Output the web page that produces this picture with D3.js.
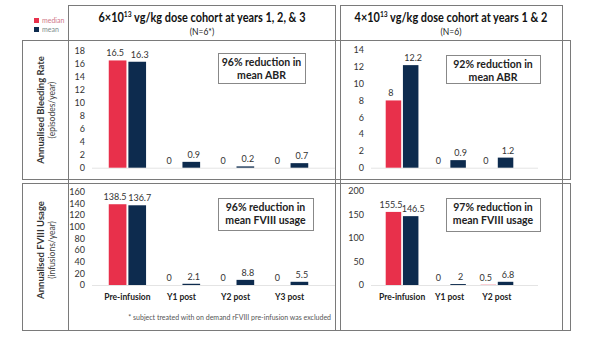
<!DOCTYPE html>
<html>
<head>
<meta charset="utf-8">
<script src="https://cdn.jsdelivr.net/npm/d3@7"></script>
<style>
  body { margin: 0; background: #fff; }
  svg { display: block; font-family: Lato, "Open Sans", sans-serif; }
</style>
</head>
<body>
<svg id="chart" width="600" height="338"></svg>
<script>
// categories
const catsHigh = ["Pre-infusion", "Y1 post", "Y2 post", "Y3 post"]
const catsLow = ["Pre-infusion", "Y1 post", "Y2 post"]
const series = ["median", "mean"]

// 6e13 cohort
const abrHighMedian = [16.5, 0, 0, 0]
const abrHighMean = [16.3, 0.9, 0.2, 0.7]
const fviiiHighMedian = [138.5, 0, 0, 0]
const fviiiHighMean = [136.7, 2.1, 8.8, 5.5]
// 4e13 cohort
const abrLowMedian = [8, 0, 0]
const abrLowMean = [12.2, 0.9, 1.2]
const fviiiLowMedian = [155.5, 0, 0.5]
const fviiiLowMean = [146.5, 2, 6.8]

// axis ticks
const abrHighTicks = [0, 2, 4, 6, 8, 10, 12, 14, 16, 18]
const abrLowTicks = [0, 2, 4, 6, 8, 10, 12, 14]
const fviiiHighTicks = [0, 20, 40, 60, 80, 100, 120, 140, 160]
const fviiiLowTicks = [0, 50, 100, 150, 200]

const RED = "#e8304b", NAVY = "#0d2b4e", LINE = "#7a7a7a"

let svg = d3.select("#chart")
let color = d3.scaleOrdinal().domain(series).range([RED, NAVY])

//frames
let frames = [
  [22, 40, 46, 139], [22, 183, 46, 147],
  [68, 5, 267, 325], [340, 5, 222, 325],
  [68, 40, 502, 139], [68, 183, 502, 147]
]
svg.selectAll("rect.frame").data(frames).enter().append("rect")
  .attr("class", "frame")
  .attr("x", d => d[0] + 0.5).attr("y", d => d[1] + 0.5)
  .attr("width", d => d[2]).attr("height", d => d[3])
  .attr("fill", "none").attr("stroke", LINE).attr("stroke-width", 1)

//titles - squeezed horizontally like the narrow original face
function title(cx, lead, tail, sub) {
  let t = svg.append("text").attr("transform", `translate(${cx},22) scale(0.84,1)`)
    .attr("text-anchor", "middle").attr("font-size", 13)
    .attr("font-weight", "bold").attr("fill", "#111")
  t.append("tspan").text(lead)
  t.append("tspan").attr("dy", -5).attr("font-size", 8).text("13")
  t.append("tspan").attr("dy", 5).text(tail)
  svg.append("text").attr("x", cx).attr("y", 35)
    .attr("text-anchor", "middle").attr("font-size", 8.5).attr("fill", "#222")
    .text(sub)
}
title(202, "6×10", " vg/kg dose cohort at years 1, 2, & 3", "(N=6*)")
title(451, "4×10", " vg/kg dose cohort at years 1 & 2", "(N=6)")

//legend
let lg = svg.append("g").attr("transform", "translate(34,18)")
series.forEach((s, i) => {
  lg.append("rect").attr("x", 0).attr("y", i * 9).attr("width", 5).attr("height", 5)
    .attr("fill", color(s))
  lg.append("text").attr("x", 8).attr("y", i * 9 + 5).attr("font-size", 7)
    .attr("fill", i ? "#7d8c8c" : "#d0788a").text(s)
})

//row titles
function rowTitle(cy, main, sub) {
  svg.append("text").attr("transform", `translate(44,${cy}) rotate(-90)`)
    .attr("text-anchor", "middle").attr("font-size", 9.5).attr("font-weight", "bold")
    .attr("fill", "#333").text(main)
  svg.append("text").attr("transform", `translate(55,${cy}) rotate(-90)`)
    .attr("text-anchor", "middle").attr("font-size", 8.5)
    .attr("fill", "#444").text(sub)
}
rowTitle(110, "Annualised Bleeding Rate", "(episodes/year)")
rowTitle(250, "Annualised FVIII Usage", "(infusions/year)")

function panel(o) {
  let g = svg.append("g")
  let x = d3.scaleBand().domain(o.cats).range(o.xr).padding(0.31)
  let xs = d3.scaleBand().domain(series).range([0, x.bandwidth()]).paddingInner(0.1)
  let y = d3.scaleLinear().domain([0, o.ticks[o.ticks.length - 1]]).range(o.yr)

  let ax = g.append("g").attr("transform", `translate(${o.axisX},0)`)
    .call(d3.axisLeft(y).tickValues(o.ticks).tickSize(0).tickPadding(0))
  ax.select(".domain").remove()
  ax.selectAll("text").attr("font-size", 9).attr("font-family", "Lato, sans-serif")
    .attr("fill", "#333")

  g.append("line").attr("x1", o.xr[0]).attr("x2", o.xr[1] + 10)
    .attr("y1", y(0) + 0.5).attr("y2", y(0) + 0.5).attr("stroke", "#e4e4e4")

  let rows = []
  o.cats.forEach((c, i) => {
    rows.push({c, s: "median", v: o.median[i]})
    rows.push({c, s: "mean", v: o.mean[i]})
  })
  g.selectAll("rect.bar").data(rows).enter().append("rect")
    .attr("class", "bar")
    .attr("x", d => x(d.c) + xs(d.s))
    .attr("width", xs.bandwidth())
    .attr("y", d => y(d.v))
    .attr("height", d => y(0) - y(d.v))
    .attr("fill", d => color(d.s))
  g.selectAll("text.val").data(rows).enter().append("text")
    .attr("class", "val")
    .attr("x", d => x(d.c) + xs(d.s) + xs.bandwidth() / 2)
    .attr("dx", d => d.s === "median" ? -2.5 : 2.5)
    .attr("y", d => y(d.v) - 4)
    .attr("text-anchor", "middle").attr("font-size", 9).attr("fill", "#333")
    .text(d => d.v)

  if (o.labels) {
    g.selectAll("text.cat").data(o.cats).enter().append("text")
      .attr("class", "cat")
      .attr("x", d => x(d) + x.bandwidth() / 2).attr("y", 300)
      .attr("text-anchor", "middle").attr("font-size", 8.5).attr("font-weight", "bold")
      .attr("fill", "#222").text(d => d)
  }

  let b = o.box
  g.append("rect").attr("x", b[0] + 0.5).attr("y", b[1] + 0.5)
    .attr("width", b[2]).attr("height", b[3])
    .attr("fill", "#fff").attr("stroke", "#888")
  o.note.forEach((t, i) => {
    g.append("text").attr("x", b[0] + b[2] / 2).attr("y", b[1] + 13 + i * 13)
      .attr("text-anchor", "middle").attr("font-size", 10.5).attr("font-weight", "bold")
      .attr("fill", "#222").text(t)
  })
}

panel({cats: catsHigh, median: abrHighMedian, mean: abrHighMean, ticks: abrHighTicks,
  xr: [92, 325], yr: [167.7, 50.7], axisX: 85, box: [218, 53, 87, 30],
  note: ["96% reduction in", "mean ABR"]})
panel({cats: catsHigh, median: fviiiHighMedian, mean: fviiiHighMean, ticks: fviiiHighTicks,
  xr: [92, 325], yr: [285, 191.7], axisX: 85, box: [218, 198, 95, 32], labels: true,
  note: ["96% reduction in", "mean FVIII usage"]})
panel({cats: catsLow, median: abrLowMedian, mean: abrLowMean, ticks: abrLowTicks,
  xr: [371, 528], yr: [167.7, 50], axisX: 364, box: [446, 55, 94, 28],
  note: ["92% reduction in", "mean ABR"]})
panel({cats: catsLow, median: fviiiLowMedian, mean: fviiiLowMean, ticks: fviiiLowTicks,
  xr: [371, 528], yr: [285, 191], axisX: 364, box: [446, 198, 94, 33], labels: true,
  note: ["97% reduction in", "mean FVIII usage"]})

//footnote
svg.append("text").attr("x", 331).attr("y", 320).attr("text-anchor", "end")
  .attr("font-size", 7).attr("fill", "#555")
  .text("* subject treated with on demand rFVIII  pre-infusion was excluded")
</script>
</body>
</html>
